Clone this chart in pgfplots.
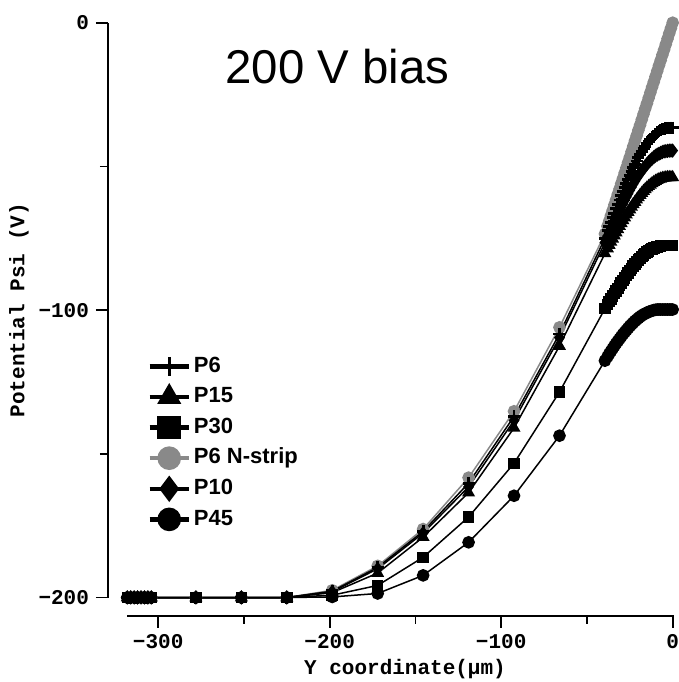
\documentclass[border=0pt]{standalone}
\usepackage{fontspec}
\setmainfont{Liberation Sans}
\newfontfamily\monofont{Liberation Mono}
\usepackage{pgfplots}
\usepackage{pgfplotstable}
\pgfplotsset{compat=1.18}
\definecolor{ngray}{RGB}{137,137,137}

\pgfplotstableread{
x p6 p15 p30 pn p10 p45
-318 -200 -200 -200 -200 -200 -200
-316 -200 -200 -200 -200 -200 -200
-314 -200 -200 -200 -200 -200 -200
-312 -200 -200 -200 -200 -200 -200
-310 -200 -200 -200 -200 -200 -200
-308 -200 -200 -200 -200 -200 -200
-306 -200 -200 -200 -200 -200 -200
-304 -200 -200 -200 -200 -200 -200
-278 -200 -200 -200 -200 -200 -200
-251.5 -200 -200 -200 -200 -200 -200
-225 -200 -200 -200 -200 -200 -200
-198.5 -197.8 -198.3 -199.2 -197.5 -198.0 -199.8
-172 -189.5 -191.5 -195.8 -189.0 -190.0 -198.6
-145.5 -177.0 -179.0 -186.0 -176.2 -177.6 -192.3
-119 -160.2 -163.5 -172.0 -158.3 -161.5 -180.8
-92.5 -137.0 -141.0 -153.3 -135.2 -138.4 -164.6
-66 -108.3 -112.5 -128.5 -106.0 -109.6 -143.7
-39.5 -75.0 -80.3 -99.5 -73.5 -76.5 -117.6
-38 -72.4 -78.6 -98.0 -70.8 -74.3 -116.2
-37 -70.9 -77.4 -97.0 -69.0 -73.1 -115.2
-36 -69.5 -76.3 -96.1 -67.1 -71.9 -114.3
-35 -67.9 -75.2 -95.1 -65.3 -70.6 -113.4
-34 -66.3 -74.1 -94.2 -63.4 -69.3 -112.5
-33 -64.7 -73.0 -93.3 -61.6 -68.0 -111.6
-32 -63.2 -71.9 -92.4 -59.7 -66.7 -110.8
-31 -61.7 -70.8 -91.5 -57.9 -65.4 -110.0
-30 -60.2 -69.8 -90.6 -56.0 -64.2 -109.2
-29 -58.7 -68.8 -89.7 -54.2 -63.0 -108.4
-28 -57.3 -67.8 -88.8 -52.3 -61.8 -107.7
-27 -55.9 -66.8 -87.9 -50.5 -60.6 -107.0
-26 -54.5 -65.9 -87.1 -48.6 -59.5 -106.3
-25 -53.1 -65.0 -86.3 -46.8 -58.3 -105.6
-24 -51.8 -64.1 -85.5 -44.9 -57.2 -105.0
-23 -50.5 -63.2 -84.7 -43.0 -56.1 -104.4
-22 -49.3 -62.4 -84.0 -41.1 -55.1 -103.8
-21 -48.1 -61.6 -83.3 -39.3 -54.1 -103.3
-20 -47.0 -60.8 -82.6 -37.4 -53.2 -102.8
-19 -45.9 -60.0 -82.0 -35.6 -52.3 -102.3
-18 -44.9 -59.3 -81.4 -33.7 -51.5 -101.9
-17 -43.9 -58.6 -80.8 -31.8 -50.7 -101.5
-16 -43.0 -58.0 -80.3 -29.9 -49.9 -101.2
-15 -42.1 -57.4 -79.8 -28.1 -49.2 -100.9
-14 -41.3 -56.9 -79.4 -26.2 -48.5 -100.6
-13 -40.6 -56.4 -79.0 -24.3 -47.9 -100.4
-12 -39.9 -55.9 -78.7 -22.4 -47.3 -100.2
-11 -39.3 -55.5 -78.4 -20.6 -46.8 -100.0
-10 -38.7 -55.1 -78.2 -18.7 -46.3 -99.9
-9 -38.2 -54.8 -78.0 -16.8 -45.9 -99.8
-8 -37.8 -54.5 -77.8 -14.9 -45.6 -99.8
-7 -37.4 -54.3 -77.7 -13.1 -45.3 -99.8
-6 -37.1 -54.1 -77.6 -11.2 -45.0 -99.8
-5 -36.9 -54.0 -77.5 -9.4 -44.8 -99.8
-4 -36.7 -53.9 -77.5 -7.5 -44.7 -99.8
-3 -36.6 -53.8 -77.5 -5.6 -44.6 -99.8
-2 -36.5 -53.8 -77.5 -3.7 -44.5 -99.8
-1 -36.5 -53.8 -77.5 -1.9 -44.5 -99.8
0 -36.5 -53.8 -77.5 0.0 -44.5 -99.8
}\datatable

\begin{document}
\begin{tikzpicture}
\begin{axis}[
  name=ax,
  scale only axis, width=273.55pt, height=287.4pt,
  xmin=-318, xmax=1, ymin=-200, ymax=0,
  enlargelimits=false, clip=false,
  axis lines=left, axis line style={-, line width=0.9pt},
  axis x line shift=9.1pt, axis y line shift=9.65pt,
  tick align=outside, major tick length=6pt, minor tick length=4pt,
  every tick/.style={line width=0.9pt, black},
  xtick={-300,-200,-100,0}, xticklabels={−300,−200,−100,0},
  minor xtick={-250,-150,-50},
  ytick={-200,-100,0}, yticklabels={−200,−100,0},
  minor ytick={-150,-50},
  tick label style={font=\monofont\bfseries\fontsize{10.5}{12}\selectfont},
  xlabel={Y coordinate(µm)}, ylabel={Potential Psi (V)},
  label style={font=\monofont\bfseries\fontsize{10.5}{12}\selectfont},
  x label style={at={(axis description cs:0.5076,-0.1244)}, anchor=center},
  y label style={at={(axis description cs:-0.198,0.5)}, anchor=center},
  legend cell align=left,
  legend style={draw=none, fill=none, at={(axis description cs:0.037,0.42)}, anchor=north west,
    inner sep=0pt, outer sep=0pt, row sep=5pt,
    font=\bfseries\fontsize{11}{13}\selectfont,
    nodes={inner sep=0pt, text height=8pt, text depth=2.3pt},
    /tikz/every odd column/.append style={column sep=1.5pt}},
  legend image code/.code={\draw[mark repeat=2, mark phase=2, line width=2.2pt, mark size=4.8pt] plot coordinates {(0pt,0pt) (9.75pt,0pt) (19.5pt,0pt)};},
  p6style/.style={black, line width=0.75pt, mark=+, mark size=3pt, mark options={line width=1.4pt}},
  p15style/.style={black, line width=0.75pt, mark=triangle*, mark size=3pt},
  p30style/.style={black, line width=0.75pt, mark=square*, mark size=2.5pt},
  pnstyle/.style={ngray, line width=0.75pt, mark=*, mark size=2.8pt},
  p10style/.style={black, line width=0.75pt, mark=diamond*, mark size=3pt},
  p45style/.style={black, line width=0.75pt, mark=*, mark size=2.8pt},
]
\addplot[pnstyle, forget plot] table[x=x, y=pn] {\datatable};
\addplot[p45style, forget plot] table[x=x, y=p45] {\datatable};
\addplot[p30style, forget plot] table[x=x, y=p30] {\datatable};
\addplot[p15style, forget plot] table[x=x, y=p15] {\datatable};
\addplot[p10style, forget plot] table[x=x, y=p10] {\datatable};
\addplot[p6style, forget plot] table[x=x, y=p6] {\datatable};
\addlegendimage{p6style}
\addlegendentry{P6}
\addlegendimage{p15style}
\addlegendentry{P15}
\addlegendimage{p30style}
\addlegendentry{P30}
\addlegendimage{pnstyle}
\addlegendentry{P6 N-strip}
\addlegendimage{p10style}
\addlegendentry{P10}
\addlegendimage{p45style}
\addlegendentry{P45}
\node[anchor=base west, inner sep=0pt, font=\fontsize{23.7}{28}\selectfont] at (axis cs:-261,-21.1) {200 V bias};
\end{axis}
\pgfresetboundingbox
\path (ax.south west) ++(-63.65pt,-42.25pt) rectangle ++(339.5pt,341pt);
\end{tikzpicture}
\end{document}
